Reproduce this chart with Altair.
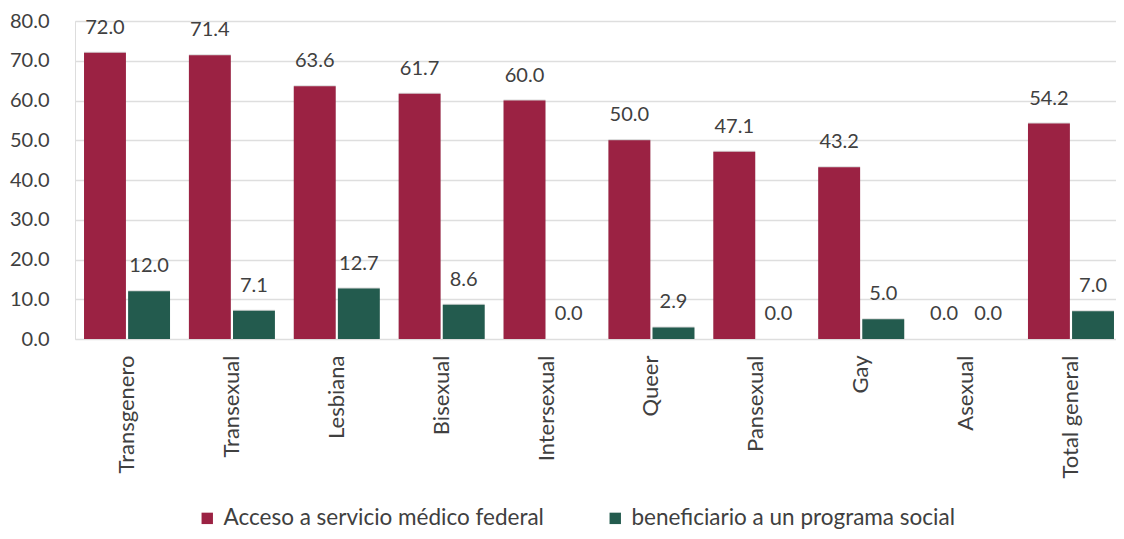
import altair as alt
import pandas as pd

categories = ["Transgenero", "Transexual", "Lesbiana", "Bisexual", "Intersexual",
              "Queer", "Pansexual", "Gay", "Asexual", "Total general"]
acceso = [72.0, 71.4, 63.6, 61.7, 60.0, 50.0, 47.1, 43.2, 0.0, 54.2]
beneficiario = [12.0, 7.1, 12.7, 8.6, 0.0, 2.9, 0.0, 5.0, 0.0, 7.0]
series = ["Acceso a servicio médico federal", "beneficiario  a un programa social"]
colors = ["#9B2243", "#235B4E"]

rows = []
for c, a, b in zip(categories, acceso, beneficiario):
    rows.append({"cat": c, "serie": series[0], "val": a})
    rows.append({"cat": c, "serie": series[1], "val": b})
df = pd.DataFrame(rows)

FONT = "Lato"
TXT = "#404040"
x = alt.X("cat:N", sort=categories, title=None,
          scale=alt.Scale(paddingInner=0.18, paddingOuter=0.086, range=[0, 1048]),
          axis=alt.Axis(labelAngle=-90, labelFontSize=22, labelColor=TXT,
                        labelFont=FONT, ticks=False, domain=False, labelPadding=16))
xo = alt.XOffset("serie:N", sort=series, scale=alt.Scale(paddingInner=0.05))
y = alt.Y("val:Q", title=None,
          scale=alt.Scale(domain=[0, 80]),
          axis=alt.Axis(values=list(range(0, 81, 10)), format=".1f", labelFontSize=20,
                        labelColor=TXT, labelFont=FONT, ticks=False, domain=False,
                        gridColor="#dedede", gridWidth=1.5, labelPadding=26))
color = alt.Color("serie:N", sort=series, title=None,
                  scale=alt.Scale(domain=series, range=colors),
                  legend=alt.Legend(orient="none", legendX=121, legendY=486,
                                    direction="horizontal",
                                    symbolType="square", symbolSize=130,
                                    symbolStrokeWidth=0, labelFontSize=22.5,
                                    labelColor=TXT, labelFont=FONT, labelLimit=0,
                                    labelOffset=5, columnPadding=60))

base = alt.Chart(df)
shadow = base.mark_bar(color="#000000", opacity=0.15, xOffset=3, yOffset=-1).encode(
    x=x, xOffset=xo, y=y)
bars = base.mark_bar().encode(x=x, xOffset=xo, y=y, color=color)
text = base.mark_text(baseline="bottom", dy=-15, fontSize=20, color=TXT,
                      font=FONT).encode(
    x=x, xOffset=xo, y=y, text=alt.Text("val:Q", format=".1f"))

chart = alt.layer(shadow, bars, text).properties(
    width=1041, height=318,
    autosize=alt.AutoSizeParams(type="none"),
    padding={"left": 67, "top": 13, "right": 0, "bottom": 192},
).configure_view(stroke=None).configure(background="white")

chart.save("out.html", embed_options={"renderer": "svg", "actions": False})
